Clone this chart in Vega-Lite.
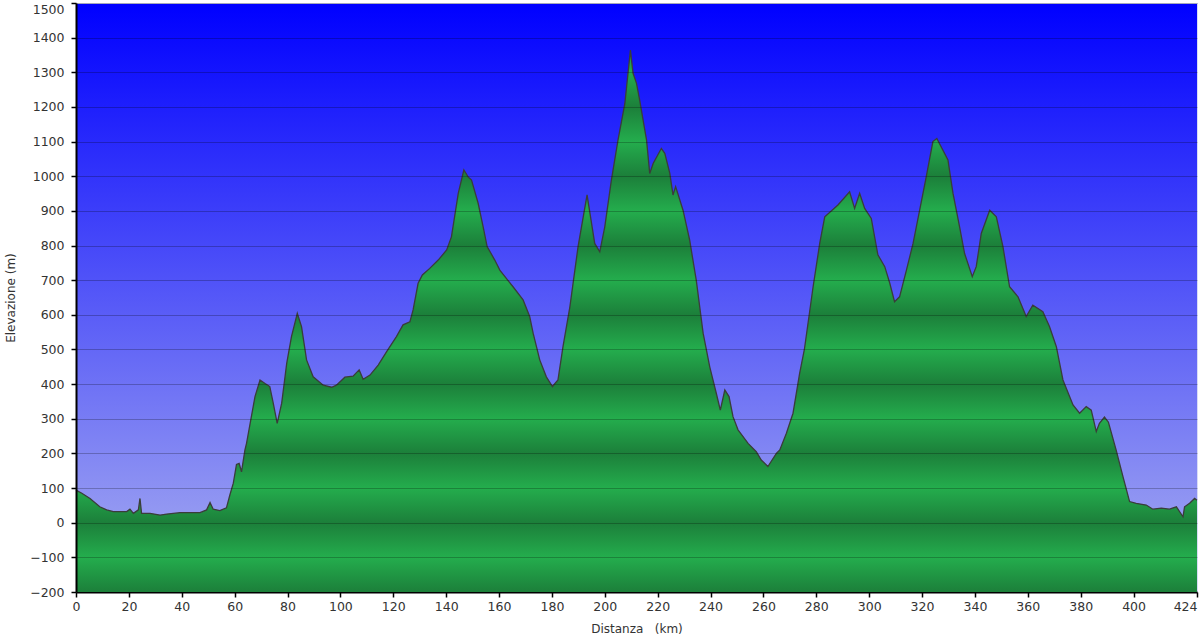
{
  "$schema": "https://vega.github.io/schema/vega-lite/v6.json",
  "description": "Profilo altimetrico: elevazione lungo la distanza",
  "width": 1121,
  "height": 589,
  "autosize": {"type": "none"},
  "padding": {"left": 76, "top": 3, "right": 3, "bottom": 52},
  "background": "white",
  "data": {
    "values": [
      {"km": 0, "elev": 94}, {"km": 2.2, "elev": 85}, {"km": 5.3, "elev": 70},
      {"km": 9, "elev": 46}, {"km": 11.6, "elev": 37}, {"km": 14.1, "elev": 32},
      {"km": 19.2, "elev": 32}, {"km": 20.4, "elev": 39}, {"km": 21.7, "elev": 27},
      {"km": 23.6, "elev": 37}, {"km": 24.2, "elev": 70}, {"km": 24.8, "elev": 27},
      {"km": 28, "elev": 27}, {"km": 31.8, "elev": 22}, {"km": 34.3, "elev": 25},
      {"km": 39.3, "elev": 29}, {"km": 46.9, "elev": 29}, {"km": 49.4, "elev": 37},
      {"km": 50.7, "elev": 58}, {"km": 51.9, "elev": 39}, {"km": 54.4, "elev": 35},
      {"km": 56.9, "elev": 43}, {"km": 58.2, "elev": 80}, {"km": 59.5, "elev": 114},
      {"km": 60.7, "elev": 168}, {"km": 61.7, "elev": 171}, {"km": 62.6, "elev": 147},
      {"km": 63.9, "elev": 210}, {"km": 64.5, "elev": 229}, {"km": 67.7, "elev": 364},
      {"km": 69.6, "elev": 412}, {"km": 71.5, "elev": 402}, {"km": 73.3, "elev": 393},
      {"km": 74.6, "elev": 345}, {"km": 76.1, "elev": 287}, {"km": 77.8, "elev": 345},
      {"km": 79.7, "elev": 460}, {"km": 81.5, "elev": 537}, {"km": 83.7, "elev": 604},
      {"km": 85.3, "elev": 566}, {"km": 87.2, "elev": 470}, {"km": 89.7, "elev": 421},
      {"km": 93.5, "elev": 397}, {"km": 96.7, "elev": 391}, {"km": 98.5, "elev": 397},
      {"km": 101.7, "elev": 420}, {"km": 104.8, "elev": 423}, {"km": 107.1, "elev": 441},
      {"km": 108.6, "elev": 414}, {"km": 111.2, "elev": 426}, {"km": 114.3, "elev": 455},
      {"km": 117.5, "elev": 494}, {"km": 121.2, "elev": 537}, {"km": 123.7, "elev": 571},
      {"km": 126.3, "elev": 580}, {"km": 127.5, "elev": 614}, {"km": 129.4, "elev": 691},
      {"km": 131, "elev": 715}, {"km": 133.8, "elev": 734}, {"km": 137, "elev": 758},
      {"km": 140.2, "elev": 787}, {"km": 142, "elev": 825}, {"km": 144.6, "elev": 951},
      {"km": 146.7, "elev": 1018}, {"km": 148.3, "elev": 998}, {"km": 149.6, "elev": 989},
      {"km": 152.1, "elev": 922}, {"km": 154, "elev": 854}, {"km": 155.5, "elev": 797},
      {"km": 158.4, "elev": 758}, {"km": 160.3, "elev": 729}, {"km": 165.3, "elev": 681},
      {"km": 169.1, "elev": 643}, {"km": 171.6, "elev": 595}, {"km": 172.9, "elev": 547},
      {"km": 175.4, "elev": 470}, {"km": 177.9, "elev": 421}, {"km": 180.2, "elev": 393},
      {"km": 182.3, "elev": 412}, {"km": 184.2, "elev": 508}, {"km": 186.8, "elev": 623},
      {"km": 189.9, "elev": 797}, {"km": 193.3, "elev": 946}, {"km": 196.2, "elev": 806},
      {"km": 198.1, "elev": 782}, {"km": 200, "elev": 854}, {"km": 202.5, "elev": 989},
      {"km": 205, "elev": 1104}, {"km": 207.6, "elev": 1210}, {"km": 209.7, "elev": 1364},
      {"km": 210.7, "elev": 1297}, {"km": 212, "elev": 1268}, {"km": 213.2, "elev": 1220},
      {"km": 215.8, "elev": 1104}, {"km": 217, "elev": 1008}, {"km": 218.3, "elev": 1037},
      {"km": 221.4, "elev": 1080}, {"km": 222.7, "elev": 1066}, {"km": 224.6, "elev": 1008},
      {"km": 225.8, "elev": 946}, {"km": 226.8, "elev": 970}, {"km": 229.6, "elev": 902},
      {"km": 232.1, "elev": 816}, {"km": 234.6, "elev": 700}, {"km": 237.2, "elev": 547},
      {"km": 239.7, "elev": 450}, {"km": 242.2, "elev": 373}, {"km": 243.7, "elev": 325},
      {"km": 245.4, "elev": 383}, {"km": 247, "elev": 364}, {"km": 248.5, "elev": 306},
      {"km": 250.4, "elev": 268}, {"km": 254.2, "elev": 229}, {"km": 257.3, "elev": 205},
      {"km": 259.2, "elev": 181}, {"km": 261.7, "elev": 162}, {"km": 264.9, "elev": 200},
      {"km": 266.2, "elev": 210}, {"km": 268.7, "elev": 258}, {"km": 271.2, "elev": 316},
      {"km": 273.7, "elev": 431}, {"km": 275.5, "elev": 500}, {"km": 278.8, "elev": 681},
      {"km": 281.3, "elev": 806}, {"km": 283.2, "elev": 883}, {"km": 288.2, "elev": 917},
      {"km": 292.6, "elev": 955}, {"km": 294.5, "elev": 907}, {"km": 296.4, "elev": 951},
      {"km": 298.3, "elev": 907}, {"km": 300.8, "elev": 878}, {"km": 303.3, "elev": 773},
      {"km": 305.9, "elev": 739}, {"km": 307.8, "elev": 691}, {"km": 309.6, "elev": 638},
      {"km": 311.5, "elev": 652}, {"km": 314.1, "elev": 729}, {"km": 316.6, "elev": 806},
      {"km": 319.1, "elev": 902}, {"km": 321.6, "elev": 999}, {"km": 324.1, "elev": 1100},
      {"km": 325.6, "elev": 1109}, {"km": 329.8, "elev": 1047}, {"km": 331.7, "elev": 951},
      {"km": 334.2, "elev": 854}, {"km": 336.1, "elev": 777}, {"km": 339, "elev": 710},
      {"km": 340.5, "elev": 739}, {"km": 342.4, "elev": 835}, {"km": 345.6, "elev": 902},
      {"km": 348.1, "elev": 883}, {"km": 350.6, "elev": 797}, {"km": 353.1, "elev": 681},
      {"km": 356.3, "elev": 652}, {"km": 359.4, "elev": 595}, {"km": 361.9, "elev": 628},
      {"km": 365.7, "elev": 609}, {"km": 368.2, "elev": 566}, {"km": 370.8, "elev": 508},
      {"km": 373.3, "elev": 412}, {"km": 377.1, "elev": 340}, {"km": 379.6, "elev": 316},
      {"km": 382.1, "elev": 335}, {"km": 384, "elev": 325}, {"km": 385.9, "elev": 263},
      {"km": 387.1, "elev": 287}, {"km": 389, "elev": 305}, {"km": 390.5, "elev": 290},
      {"km": 393.4, "elev": 210}, {"km": 396, "elev": 133}, {"km": 398.5, "elev": 61},
      {"km": 401, "elev": 56}, {"km": 404.8, "elev": 51}, {"km": 407.3, "elev": 39},
      {"km": 410.5, "elev": 42}, {"km": 413.6, "elev": 39}, {"km": 416.2, "elev": 46},
      {"km": 418.7, "elev": 17}, {"km": 419.3, "elev": 46}, {"km": 421.2, "elev": 56},
      {"km": 423.1, "elev": 70}, {"km": 424, "elev": 65}
    ]
  },
  "encoding": {
    "x": {
      "field": "km",
      "type": "quantitative",
      "title": "Distanza\u00a0\u00a0\u00a0(km)",
      "scale": {"domain": [0, 424], "nice": false},
      "axis": {
        "values": [0, 20, 40, 60, 80, 100, 120, 140, 160, 180, 200, 220, 240, 260, 280, 300, 320, 340, 360, 380, 400, 424],
        "format": "d",
        "grid": false,
        "labelFlush": false,
        "labelAlign": {"condition": {"test": "datum.value == 424", "value": "right"}, "value": "center"},
        "labelPadding": 3,
        "titlePadding": 11
      }
    },
    "y": {
      "field": "elev",
      "type": "quantitative",
      "title": "Elevazione (m)",
      "scale": {"domain": [-200, 1500], "nice": false, "zero": false},
      "axis": {
        "values": [-200, -100, 0, 100, 200, 300, 400, 500, 600, 700, 800, 900, 1000, 1100, 1200, 1300, 1400, 1500],
        "format": "d",
        "grid": true,
        "gridColor": "#000000",
        "gridOpacity": 0.24,
        "gridWidth": 1,
        "labelFlush": false,
        "labelBaseline": {"condition": {"test": "datum.value == 1500", "value": "top"}, "value": "middle"},
        "labelPadding": 7,
        "titlePadding": 12,
        "zindex": 1
      }
    }
  },
  "layer": [
    {
      "mark": {
        "type": "area",
        "interpolate": "linear",
        "color": {
          "gradient": "linear",
          "x1": 0, "y1": 0, "x2": 0, "y2": 1,
          "stops": [
            {"offset": 0, "color": "#1f9342"},
            {"offset": 0.0409, "color": "#24ad4d"},
            {"offset": 0.1049, "color": "#1c7f3a"},
            {"offset": 0.1688, "color": "#24ad4d"},
            {"offset": 0.2327, "color": "#1c7f3a"},
            {"offset": 0.2967, "color": "#24ad4d"},
            {"offset": 0.3606, "color": "#1c7f3a"},
            {"offset": 0.4246, "color": "#24ad4d"},
            {"offset": 0.4885, "color": "#1c7f3a"},
            {"offset": 0.5524, "color": "#24ad4d"},
            {"offset": 0.6164, "color": "#1c7f3a"},
            {"offset": 0.6803, "color": "#24ad4d"},
            {"offset": 0.7442, "color": "#1c7f3a"},
            {"offset": 0.8082, "color": "#24ad4d"},
            {"offset": 0.8721, "color": "#1c7f3a"},
            {"offset": 0.9361, "color": "#24ad4d"},
            {"offset": 1, "color": "#1c7f3a"}
          ]
        },
        "opacity": 1
      },
      "encoding": {
        "y2": {"datum": -200}
      }
    },
    {
      "mark": {"type": "line", "interpolate": "linear", "color": "#3a3d3a", "strokeWidth": 1.3},
      "encoding": {}
    }
  ],
  "config": {
    "view": {
      "fill": {
        "gradient": "linear",
        "x1": 0, "y1": 0, "x2": 0, "y2": 1,
        "stops": [
          {"offset": 0, "color": "#0000ff"},
          {"offset": 1, "color": "#aab0f0"}
        ]
      },
      "stroke": "#d8dbf7",
      "strokeWidth": 1
    },
    "axis": {
      "domainColor": "#000000",
      "domainWidth": 2,
      "tickColor": "#000000",
      "tickSize": 5,
      "tickWidth": 1.5,
      "labelFont": "DejaVu Sans",
      "labelFontSize": 12.5,
      "labelColor": "#333333",
      "titleFont": "DejaVu Sans",
      "titleFontSize": 12,
      "titleFontWeight": "normal",
      "titleColor": "#333333"
    }
  }
}
